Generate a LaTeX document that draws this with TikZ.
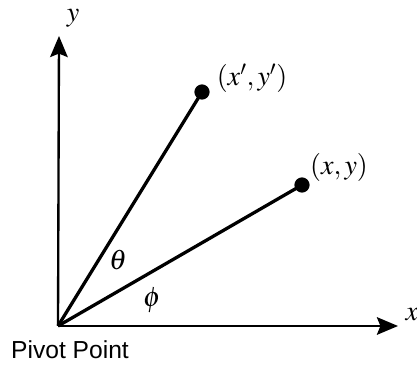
\documentclass[tikz,border=0pt]{standalone}
\usepackage{mathptmx}
\usepackage{fontspec}
\setsansfont{Liberation Sans}
\usetikzlibrary{arrows.meta}

\tikzset{
    axis/.style={->, line width=2pt},
    ray/.style={line width=2.8pt},
    dot/.style={circle, fill, inner sep=0pt, minimum size=13pt},
    lbl/.style={font=\fontsize{24}{28}\selectfont, inner sep=0pt}
}

\begin{document}
\begin{tikzpicture}[x=0.03cm, y=0.03cm, >={Stealth[length=18pt,width=15pt,inset=3pt]}]
    \useasboundingbox (-58,-40) rectangle (359,326);
    \coordinate (O) at (0,0);
    % axes
    \draw[axis] (O) -- (340,0) coordinate (xend);
    \draw[axis] (O) -- (1,290) coordinate (yend);
    \node[lbl] (xlbl) at (354,11) {$x$};
    \node[lbl] (ylbl) at (15,308) {$y$};
    % points
    \node[dot] (pnew) at (144,234) {};
    \node[dot] (pold) at (244,141) {};
    \draw[ray] (O) -- (pnew.center);
    \draw[ray] (O) -- (pold.center);
    \node[lbl] (pnewlbl) at (194,248) {$(x', y')$};
    \node[lbl] (poldlbl) at (281,159) {$(x, y)$};
    % angles
    \node[lbl] (theta) at (60,66) {$\theta$};
    \node[lbl] (phi) at (94,26) {$\phi$};
    \node[font=\sffamily\fontsize{21}{25}\selectfont, inner sep=0pt] (pivot) at (12,-24) {Pivot Point};
\end{tikzpicture}
\end{document}
